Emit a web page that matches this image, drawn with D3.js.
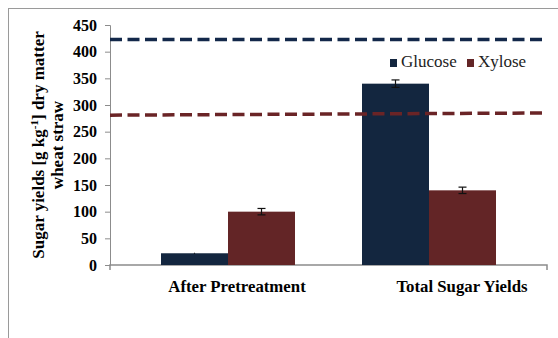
<!DOCTYPE html>
<html>
<head>
<meta charset="utf-8">
<script src="https://cdn.jsdelivr.net/npm/d3@7"></script>
<style>
  body { margin: 0; background: #fff; }
  svg text { font-family: "Liberation Serif", "Times New Roman", serif; }
</style>
</head>
<body>
<div id="chart"></div>
<script>
// data
const categories = ["After Pretreatment", "Total Sugar Yields"];
const seriesNames = ["Glucose", "Xylose"];
const glucose = [22, 340];
const xylose = [100, 140];
const glucoseErr = [1, 7];
const xylose_err = [6, 6];
const yTicks = [0, 50, 100, 150, 200, 250, 300, 350, 400, 450];
// dashed reference lines (value at left end, value at right end)
const glucoseRef = [423, 423];
const xyloseRef = [281, 285];

const width = 558, height = 338;
const serif = "'Liberation Serif', 'Times New Roman', serif";
const colors = {Glucose: "#13263f", Xylose: "#632526"};

const svg = d3.select("#chart").append("svg")
    .attr("width", width)
    .attr("height", height)
    .attr("font-family", serif);

// outer frame
svg.append("rect")
    .attr("x", 8.5).attr("y", 8.5)
    .attr("width", 700).attr("height", 500)
    .attr("fill", "none")
    .attr("stroke", "#9a9a9a");

const y = d3.scaleLinear().domain([0, 450]).range([265, 25]);
const x0 = d3.scaleBand().domain(categories)
    .range([127.5, 529.5])
    .paddingInner(1/3)
    .paddingOuter(1/6);
const x1 = d3.scaleBand().domain(seriesNames).range([0, x0.bandwidth()]);
const xLabel = d3.scalePoint().domain(categories).range([237, 462]);
const xLine = d3.scaleLinear().domain([0, 1]).range([110, 547]);

// y axis
const yAxis = svg.append("g")
    .attr("transform", "translate(110,0)")
    .call(d3.axisLeft(y).tickValues(yTicks).tickSize(5).tickPadding(8));
yAxis.attr("font-family", serif).attr("font-size", 16);
yAxis.select(".domain").attr("stroke", "#8c8c8c");
yAxis.selectAll(".tick line").attr("stroke", "#8c8c8c");
yAxis.selectAll(".tick text")
    .attr("font-weight", "bold")
    .attr("fill", "#000");

// x axis line
svg.append("path")
    .attr("d", `M${xLine(0)},270V${y(0)}H${xLine(1)}V270`)
    .attr("fill", "none")
    .attr("stroke", "#8c8c8c")
    .attr("stroke-width", 1.5);

// bars
const rows = categories.map((c, i) => ({
  cat: c,
  vals: [
    {name: "Glucose", v: glucose[i], e: glucoseErr[i]},
    {name: "Xylose", v: xylose[i], e: xylose_err[i]}
  ]
}));

const grp = svg.append("g").selectAll("g")
  .data(rows)
  .join("g")
    .attr("transform", d => `translate(${x0(d.cat)},0)`);

grp.selectAll("rect")
  .data(d => d.vals)
  .join("rect")
    .attr("x", d => x1(d.name))
    .attr("y", d => y(d.v))
    .attr("width", x1.bandwidth())
    .attr("height", d => y(0) - y(d.v))
    .attr("fill", d => colors[d.name]);

// error bars
const eb = grp.selectAll("g.err")
  .data(d => d.vals)
  .join("g")
    .attr("class", "err")
    .attr("stroke", "#111")
    .attr("stroke-width", 1.2);
eb.append("line")
    .attr("x1", d => x1(d.name) + x1.bandwidth() / 2)
    .attr("x2", d => x1(d.name) + x1.bandwidth() / 2)
    .attr("y1", d => y(d.v + d.e))
    .attr("y2", d => y(d.v - d.e));
eb.filter(d => d.e > 2).append("line")
    .attr("x1", d => x1(d.name) + x1.bandwidth() / 2 - 4)
    .attr("x2", d => x1(d.name) + x1.bandwidth() / 2 + 4)
    .attr("y1", d => y(d.v + d.e))
    .attr("y2", d => y(d.v + d.e));
eb.filter(d => d.e > 2).append("line")
    .attr("x1", d => x1(d.name) + x1.bandwidth() / 2 - 4)
    .attr("x2", d => x1(d.name) + x1.bandwidth() / 2 + 4)
    .attr("y1", d => y(d.v - d.e))
    .attr("y2", d => y(d.v - d.e));

// dashed reference lines
const refs = [
  {vals: glucoseRef, color: "#13284a"},
  {vals: xyloseRef, color: "#6a2426"}
];
svg.append("g").selectAll("line")
  .data(refs)
  .join("line")
    .attr("x1", xLine(0))
    .attr("x2", xLine(1))
    .attr("y1", d => y(d.vals[0]))
    .attr("y2", d => y(d.vals[1]))
    .attr("stroke", d => d.color)
    .attr("stroke-width", 3.5)
    .attr("stroke-dasharray", "12,5.5");

// category labels
svg.append("g").selectAll("text")
  .data(categories)
  .join("text")
    .attr("x", d => xLabel(d))
    .attr("y", 292)
    .attr("text-anchor", "middle")
    .attr("font-weight", "bold")
    .attr("font-size", 16.8)
    .text(d => d);

// y title
const yTitle = svg.append("text")
    .attr("transform", "translate(44,145) rotate(-90)")
    .attr("text-anchor", "middle")
    .attr("font-weight", "bold")
    .attr("font-size", 17);
yTitle.append("tspan").text("Sugar yields [g kg");
yTitle.append("tspan").attr("dy", -6).attr("font-size", 11).text("-1");
yTitle.append("tspan").attr("dy", 6).text("] dry matter");
svg.append("text")
    .attr("transform", "translate(63,145) rotate(-90)")
    .attr("text-anchor", "middle")
    .attr("font-weight", "bold")
    .attr("font-size", 17)
    .text("wheat straw");

// legend
const legendX = [390, 467];
const leg = svg.append("g").selectAll("g")
  .data(seriesNames)
  .join("g")
    .attr("transform", (d, i) => `translate(${legendX[i]},0)`);
leg.append("rect")
    .attr("x", 0).attr("y", 59)
    .attr("width", 7).attr("height", 8)
    .attr("fill", d => colors[d]);
leg.append("text")
    .attr("x", 11).attr("y", 67)
    .attr("font-size", 17)
    .attr("fill", "#222")
    .text(d => d);
</script>
</body>
</html>
